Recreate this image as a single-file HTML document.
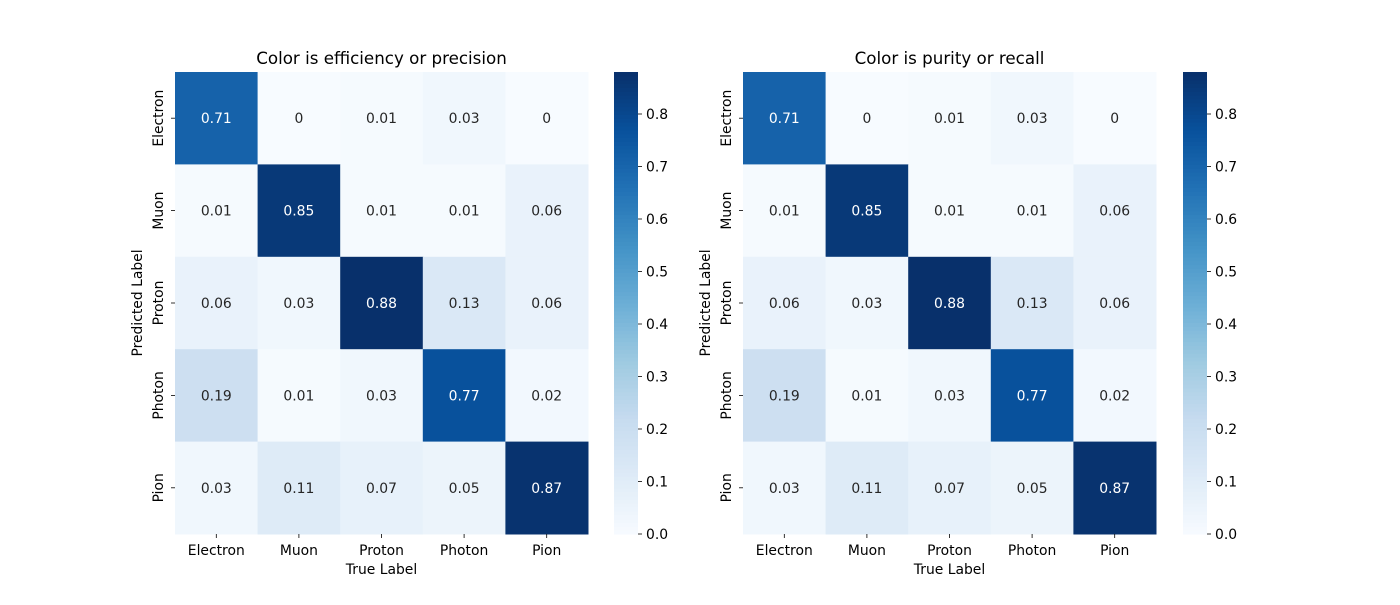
<!DOCTYPE html>
<html><head><meta charset="utf-8"><style>
body{margin:0;background:#fff}
svg{font-family:"DejaVu Sans","Liberation Sans",sans-serif}
</style></head><body>
<svg id="chart" width="1400" height="600" xmlns="http://www.w3.org/2000/svg"></svg>
<script>
const labels = ["Electron","Muon","Proton","Photon","Pion"];
const matrixLeft = [
 [0.71,0,0.01,0.03,0],
 [0.01,0.85,0.01,0.01,0.06],
 [0.06,0.03,0.88,0.13,0.06],
 [0.19,0.01,0.03,0.77,0.02],
 [0.03,0.11,0.07,0.05,0.87]];
const matrixRight = [
 [0.71,0,0.01,0.03,0],
 [0.01,0.85,0.01,0.01,0.06],
 [0.06,0.03,0.88,0.13,0.06],
 [0.19,0.01,0.03,0.77,0.02],
 [0.03,0.11,0.07,0.05,0.87]];
const colorbarTicks = [0,0.1,0.2,0.3,0.4,0.5,0.6,0.7,0.8];
const titles = ["Color is efficiency or precision","Color is purity or recall"];
const vmax = 0.88;

const NS="http://www.w3.org/2000/svg";
const svg=document.getElementById('chart');
const FS=13.9;
function mk(tag,attrs,parent){const e=document.createElementNS(NS,tag);for(const k in attrs)e.setAttribute(k,attrs[k]);(parent||svg).appendChild(e);return e;}
const stops=["#f7fbff","#deebf7","#c6dbef","#9ecae1","#6baed6","#4292c6","#2171b5","#08519c","#08306b"];
function hex(h){return [1,3,5].map(i=>parseInt(h.substr(i,2),16));}
function blues(t){t=Math.max(0,Math.min(1,t));const p=t*8,i=Math.min(7,Math.floor(p)),f=p-i;const a=hex(stops[i]),b=hex(stops[i+1]);return `rgb(${a.map((v,k)=>Math.round(v+(b[k]-v)*f)).join(',')})`;}

function panel(mat,x0,cbx,title,pi){
  const y0=72,y1=534,x1=x0+413;
  const cw=(x1-x0)/labels.length,ch=(y1-y0)/labels.length;
  const g=mk('g',{});
  
  
  mat.forEach((row,r)=>row.forEach((v,c)=>{
    const rc=mk('rect',{x:x0+c*cw,y:y0+r*ch,width:cw+0.5,height:ch+0.5,fill:blues(v/vmax)},g);
    
    
    const t=mk('text',{x:x0+(c+0.5)*cw,y:y0+(r+0.5)*ch+5,'text-anchor':'middle','font-size':FS,fill:v/vmax>0.5?'#fff':'#262626'},g);
    t.textContent=String(v);
    
    
  }));
  labels.forEach((l,i)=>{
    const cx=x0+(i+0.5)*cw;
    mk('line',{x1:cx,x2:cx,y1:y1,y2:y1+4,stroke:'#000','stroke-width':0.8},g);
    const t=mk('text',{x:cx,y:y1+21,'text-anchor':'middle','font-size':FS,fill:'#000'},g);
    t.textContent=l;
    
    
    const cy=y0+(i+0.5)*ch;
    mk('line',{x1:x0-4,x2:x0,y1:cy,y2:cy,stroke:'#000','stroke-width':0.8},g);
    const ty=mk('text',{x:0,y:0,'text-anchor':'middle','font-size':FS,fill:'#000',transform:`translate(${x0-12},${cy}) rotate(-90)`},g);
    ty.textContent=l;
    
    
  });
  const tt=mk('text',{x:(x0+x1)/2,y:64,'text-anchor':'middle','font-size':16.7,fill:'#000'},g);
  tt.textContent=title;
  
  
  const xl=mk('text',{x:(x0+x1)/2,y:574,'text-anchor':'middle','font-size':FS,fill:'#000'},g);
  xl.textContent='True Label';
  
  
  const yl=mk('text',{x:0,y:0,'text-anchor':'middle','font-size':FS,fill:'#000',transform:`translate(${x0-33},${(y0+y1)/2}) rotate(-90)`},g);
  yl.textContent='Predicted Label';
  
  
  const cb=mk('g',{},g);
  
  
  const n=120,w=24;
  for(let i=0;i<n;i++){
    mk('rect',{x:cbx,y:y1-(i+1)*(y1-y0)/n,width:w,height:(y1-y0)/n+0.6,fill:blues((i+0.5)/n)},cb);
  }
  colorbarTicks.forEach(v=>{
    const y=y1-v/vmax*(y1-y0);
    mk('line',{x1:cbx+w,x2:cbx+w+4,y1:y,y2:y,stroke:'#000','stroke-width':0.8},cb);
    const t=mk('text',{x:cbx+w+8,y:y+5,'font-size':FS,fill:'#000'},cb);
    t.textContent=v.toFixed(1);
    
    
  });
}
panel(matrixLeft,175,614,titles[0],0);
panel(matrixRight,743,1183,titles[1],1);
</script>
</body></html>
